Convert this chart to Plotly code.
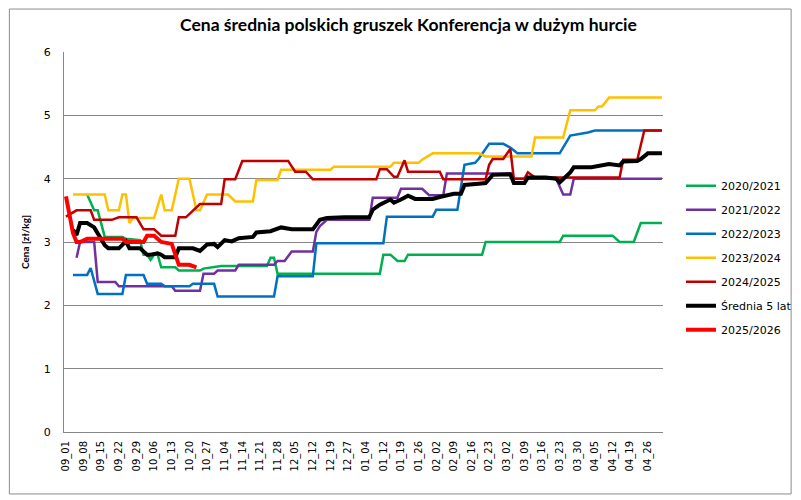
import plotly.graph_objects as go

# x = index of the trading day in the season (0 = 09_01), labels every 5th day
tick_labels = ['09_01', '09_08', '09_15', '09_22', '09_29', '10_06', '10_13', '10_20',
               '10_27', '11_04', '11_14', '11_21', '11_28', '12_05', '12_12', '12_19',
               '12_27', '01_04', '01_12', '01_19', '01_26', '02_02', '02_09', '02_16',
               '02_23', '03_02', '03_09', '03_16', '03_23', '03_30', '04_05', '04_12',
               '04_19', '04_26']
tick_step = 5

# season 2020/2021
x_2021 = [6, 8, 9, 11, 16, 17, 21, 22, 23, 24, 25, 26, 27, 31, 32, 38, 39, 42, 44, 57,
          58, 59, 60, 89, 90, 92, 94, 96, 97, 118, 119, 140, 141, 155, 157, 161, 163, 169]
y_2021 = [3.75, 3.5, 3.5, 3.08, 3.08, 3.05, 3.03, 2.8, 2.8, 2.72, 2.8, 2.8, 2.6, 2.6, 2.55,
          2.55, 2.58, 2.6, 2.62, 2.62, 2.75, 2.75, 2.5, 2.5, 2.8, 2.8, 2.7, 2.7, 2.8, 2.8,
          3.0, 3.0, 3.1, 3.1, 3.0, 3.0, 3.3, 3.3]

# season 2021/2022
x_2122 = [3, 4, 8, 9, 14, 15, 30, 31, 38, 39, 42, 43, 48, 49, 59, 60, 62, 64, 70, 71, 72,
          74, 86, 87, 94, 95, 101, 103, 107, 108, 126, 127, 139, 141, 143, 144, 169]
y_2122 = [2.75, 3.0, 3.0, 2.37, 2.37, 2.3, 2.3, 2.23, 2.23, 2.5, 2.5, 2.55, 2.55, 2.64,
          2.64, 2.7, 2.7, 2.85, 2.85, 3.16, 3.25, 3.35, 3.35, 3.7, 3.7, 3.84, 3.84, 3.74,
          3.74, 4.08, 4.08, 4.0, 4.0, 3.75, 3.75, 4.0, 4.0]

# season 2022/2023
x_2223 = [2, 6, 7, 9, 16, 17, 22, 23, 27, 28, 35, 36, 42, 43, 59, 60, 70, 71, 90, 91, 104,
          105, 111, 113, 116, 117, 120, 124, 126, 128, 140, 141, 143, 148, 150, 169]
y_2223 = [2.48, 2.48, 2.59, 2.18, 2.18, 2.48, 2.48, 2.34, 2.34, 2.3, 2.3, 2.34, 2.34, 2.14,
          2.14, 2.46, 2.46, 2.98, 2.98, 3.4, 3.4, 3.51, 3.51, 4.22, 4.25, 4.31, 4.55, 4.55,
          4.49, 4.4, 4.4, 4.5, 4.68, 4.73, 4.76, 4.76]

# season 2023/2024
x_2324 = [2, 11, 12, 15, 16, 17, 18, 19, 25, 27, 28, 30, 32, 35, 36, 37, 38, 40, 46, 48, 53,
          54, 60, 61, 75, 76, 92, 93, 100, 101, 104, 117, 119, 132, 133, 141, 143, 150, 151,
          152, 154, 169]
y_2324 = [3.75, 3.75, 3.5, 3.5, 3.75, 3.75, 3.3, 3.38, 3.38, 3.75, 3.5, 3.5, 4.0, 4.0, 3.75,
          3.5, 3.5, 3.75, 3.75, 3.64, 3.64, 3.98, 3.98, 4.14, 4.14, 4.19, 4.19, 4.25, 4.25,
          4.3, 4.4, 4.4, 4.35, 4.35, 4.65, 4.65, 5.08, 5.08, 5.14, 5.14, 5.28, 5.28]

# season 2024/2025
x_2425 = [0, 3, 7, 8, 13, 15, 20, 22, 25, 27, 31, 32, 34, 36, 38, 44, 45, 48, 50, 63, 65, 68,
          70, 88, 89, 91, 93, 94, 96, 97, 106, 107, 119, 120, 121, 124, 126, 127, 130, 131,
          133, 157, 158, 162, 164, 169]
y_2425 = [3.4, 3.5, 3.5, 3.35, 3.35, 3.39, 3.39, 3.2, 3.2, 3.1, 3.1, 3.39, 3.39, 3.5, 3.6,
          3.6, 3.99, 3.99, 4.28, 4.28, 4.11, 4.11, 3.99, 3.99, 4.15, 4.15, 4.03, 4.03, 4.29,
          4.11, 4.11, 3.99, 3.99, 4.22, 4.31, 4.31, 4.47, 4.0, 4.0, 4.1, 4.02, 4.02, 4.3,
          4.3, 4.76, 4.76]

# five-year average
x_avg = [2, 3, 4, 6, 8, 10, 11, 12, 15, 17, 18, 21, 23, 24, 26, 27, 28, 31, 32, 36, 38, 40,
         42, 43, 45, 47, 49, 53, 54, 58, 61, 64, 70, 72, 74, 79, 86, 87, 89, 92, 93, 95, 97,
         99, 104, 106, 110, 112, 113, 117, 119, 121, 126, 127, 130, 131, 136, 139, 140,
         143, 144, 149, 152, 154, 157, 158, 162, 163, 165, 169]
y_avg = [3.19, 3.11, 3.3, 3.3, 3.23, 3.03, 2.95, 2.9, 2.9, 3.01, 2.9, 2.9, 2.8, 2.8, 2.82,
         2.8, 2.76, 2.76, 2.9, 2.9, 2.86, 2.96, 2.97, 2.92, 3.03, 3.01, 3.06, 3.08, 3.15,
         3.17, 3.23, 3.2, 3.2, 3.35, 3.38, 3.39, 3.39, 3.51, 3.59, 3.67, 3.62, 3.67, 3.73,
         3.68, 3.68, 3.71, 3.76, 3.76, 3.9, 3.92, 3.93, 4.06, 4.07, 3.93, 3.93, 4.02, 4.02,
         4.0, 3.94, 4.1, 4.18, 4.18, 4.21, 4.23, 4.21, 4.27, 4.28, 4.31, 4.4, 4.4]

# season 2025/2026 (current)
x_2526 = [0, 1, 2, 3, 4, 6, 16, 17, 22, 23, 25, 27, 30, 32, 35, 37]
y_2526 = [3.72, 3.4, 3.14, 3.0, 3.0, 3.05, 3.05, 3.0, 3.0, 3.1, 3.1, 3.0, 2.97, 2.64, 2.64, 2.6]

series = [
    ('2020/2021', x_2021, y_2021, '#00B050', 2.5),
    ('2021/2022', x_2122, y_2122, '#7030A0', 2.5),
    ('2022/2023', x_2223, y_2223, '#0070C0', 2.5),
    ('2023/2024', x_2324, y_2324, '#FFC000', 2.5),
    ('2024/2025', x_2425, y_2425, '#C00000', 2.5),
    ('Średnia 5 lat', x_avg, y_avg, '#000000', 4),
    ('2025/2026', x_2526, y_2526, '#FF0000', 4),
]

fig = go.Figure()
for name, xs, ys, color, width in series:
    fig.add_trace(go.Scatter(x=xs, y=ys, mode='lines', name=name, legendgroup=name,
                             line=dict(color=color, width=width)))

grid = '#868686'
# the page body adds an 8px offset, margins are shifted to compensate
fig.update_layout(
    width=801, height=500,
    margin=dict(l=56, r=142, t=44, b=76),
    paper_bgcolor='white', plot_bgcolor='white',
    font=dict(family='DejaVu Sans', size=11, color='#000000'),
    title=dict(text='<b>Cena średnia polskich gruszek Konferencja w dużym hurcie</b>',
               x=0.5, xref='container', xanchor='center', y=0.966, yanchor='middle',
               font=dict(family='Lato', size=17.5, color='#000000')),
    showlegend=True,
    legend=dict(x=1.03, xanchor='left', y=0.686, yanchor='top', tracegroupgap=5,
                font=dict(family='DejaVu Sans', size=11), itemwidth=30,
                bgcolor='rgba(0,0,0,0)'),
    shapes=[dict(type='rect', xref='paper', yref='paper', x0=-0.0912, x1=1.2139,
                 y0=-0.163, y1=1.113, line=dict(color='#8c8c8c', width=1), layer='above')],
)
fig.update_xaxes(range=[-0.56, 169.3], showgrid=False, zeroline=False,
                 showline=True, linecolor=grid, linewidth=1,
                 tickmode='array',
                 tickvals=[i * tick_step for i in range(len(tick_labels))],
                 ticktext=tick_labels, tickangle=-90, ticklabelstandoff=4,
                 tickfont=dict(family='DejaVu Sans', size=10))
fig.update_yaxes(range=[0, 6], dtick=1, showgrid=True, gridcolor=grid, gridwidth=1,
                 zeroline=False, showline=True, linecolor=grid, linewidth=1,
                 ticks='', ticklabelstandoff=10,
                 tickfont=dict(family='DejaVu Sans', size=11),
                 title=dict(text='<b>Cena [zł/kg]</b>', standoff=12,
                            font=dict(family='Lato', size=10)))

fig.write_html('out.html')
